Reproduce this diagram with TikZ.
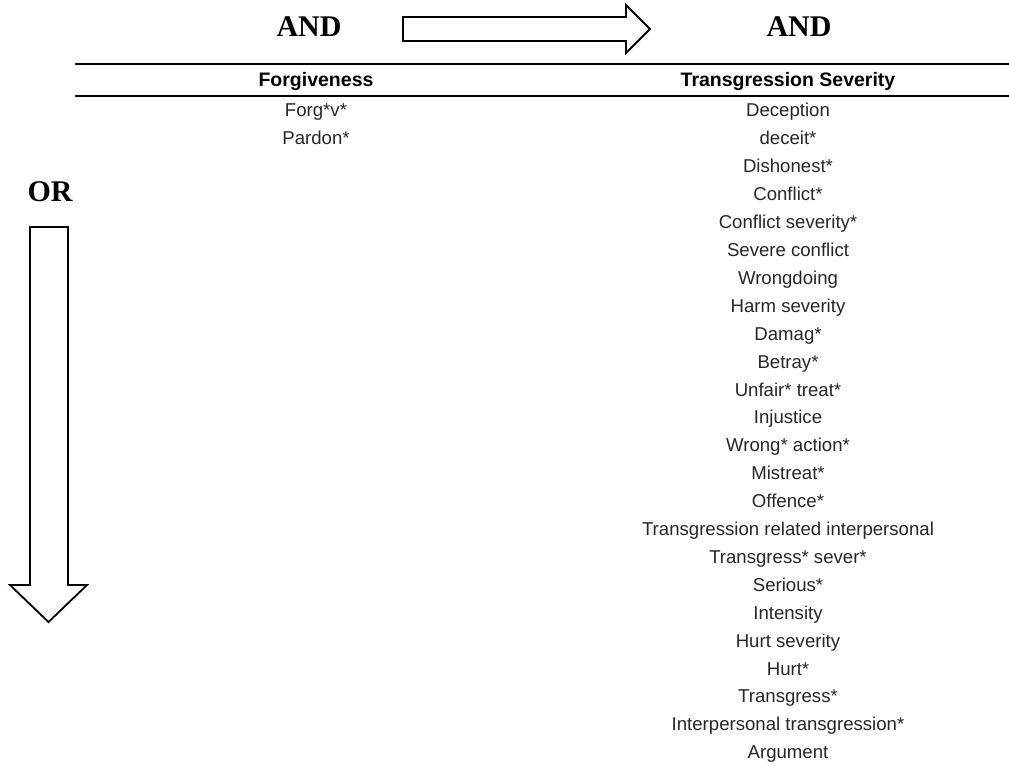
\documentclass[tikz,border=0pt]{standalone}
\usepackage{fontspec}
\setmainfont{Liberation Sans}
\newfontfamily\logicfont{Liberation Serif}
\begin{document}
\begin{tikzpicture}[x=1pt,y=-1pt,
  item/.style={anchor=base,inner sep=0pt,text=black!85,font=\fontsize{18.6}{20}\selectfont},
  colhead/.style={anchor=base,inner sep=0pt,font=\fontsize{19.5}{22}\selectfont\bfseries},
  logic/.style={anchor=base,inner sep=0pt,font=\fontsize{30}{32}\selectfont\logicfont\bfseries},
  blockarrow/.style={draw=black,line width=1.8pt,fill=white,line join=miter},
  rule/.style={draw=black}]
\useasboundingbox (0,0) rectangle (1009,767);

% logic labels
\node[logic] (andL) at (309,37) {AND};
\node[logic] (andR) at (799,37) {AND};
\node[logic] (orL) at (50,202) {OR};

% horizontal block arrow
\coordinate (hA) at (403,17);
\coordinate (hTip) at (650,29);
\draw[blockarrow] (hA) -- (626,17) -- (626,5) -- (hTip) -- (626,53) -- (626,41) -- (403,41) -- cycle;

% vertical block arrow
\coordinate (vA) at (30,227);
\coordinate (vTip) at (48.5,622);
\draw[blockarrow] (vA) -- (68,227) -- (68,585) -- (87,585) -- (vTip) -- (10,585) -- (30,585) -- cycle;

% table rules
\draw[rule,line width=2pt] (75,64) -- (1009,64);
\draw[rule,line width=1.1pt] (75,96) -- (1009,96);

% column heads
\node[colhead] (hForg) at (316,87) {Forgiveness};
\node[colhead] (hTrans) at (788,87) {Transgression Severity};

% forgiveness column
\node[item] (f1) at (316,117) {Forg*v*};
\node[item] (f2) at (316,145) {Pardon*};

% transgression column
\foreach [count=\i] \txt in {Deception,deceit*,Dishonest*,Conflict*,Conflict severity*,Severe conflict,Wrongdoing,Harm severity,Damag*,Betray*,Unfair* treat*,Injustice,Wrong* action*,Mistreat*,Offence*,Transgression related interpersonal,Transgress* sever*,Serious*,Intensity,Hurt severity,Hurt*,Transgress*,Interpersonal transgression*,Argument}
  \node[item] (t\i) at (788,{117+(\i-1)*27.9}) {\txt};
\end{tikzpicture}
\end{document}
